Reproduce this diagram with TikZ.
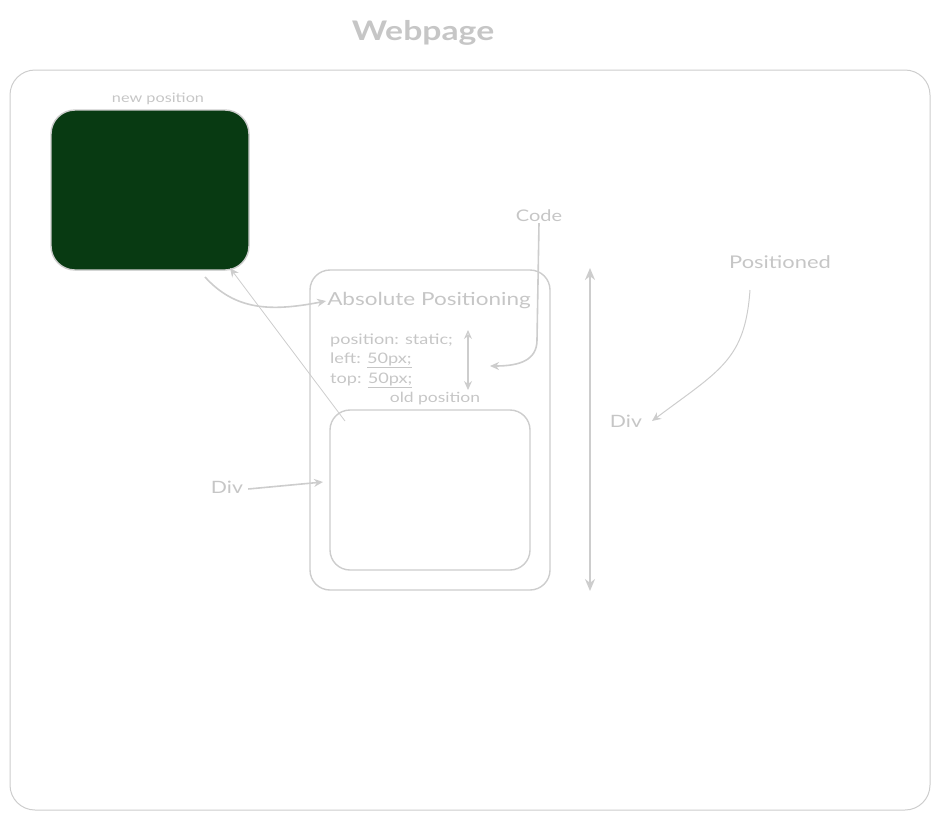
\documentclass[tikz,border=0pt]{standalone}
\usepackage{fontspec}
\setmainfont{Lato}[FakeStretch=1.25]
\usetikzlibrary{positioning,arrows.meta}
\definecolor{sketchgray}{HTML}{CDCDCD}
\definecolor{textgray}{HTML}{C6C6C6}
\definecolor{boxgreen}{HTML}{083A12}
\tikzset{
  frame/.style={draw=sketchgray, line width=1.4pt, rounded corners=22pt},
  label/.style={text=textgray, inner sep=1pt},
  link/.style={draw=sketchgray, line width=1.6pt, -{Stealth[length=9pt,width=8pt]}},
}
\begin{document}
\begin{tikzpicture}[x=1pt, y=-1pt]
\useasboundingbox (0,0) rectangle (940,820);
%page
\node[label, font=\bfseries\fontsize{27}{31}\selectfont] (title) at (423,33) {Webpage};
\draw[frame, line width=1pt, rounded corners=25pt] (10,70) rectangle (930,810);
%boxes
\draw[frame, fill=boxgreen, rounded corners=24pt] (51,110) rectangle (249,270);
\node[label, font=\fontsize{13}{15}\selectfont] (newpos) at (158,99) {new position};
\draw[frame, rounded corners=20pt] (310,270) rectangle (550,590);
\draw[frame, rounded corners=20pt] (330,410) rectangle (530,570);
\coordinate (green bottom) at (205,277);
\coordinate (green corner) at (230,268);
\coordinate (inner corner) at (345,421);
\coordinate (div target) at (323,482);
%texts
\node[label, font=\fontsize{18}{22}\selectfont] (abs) at (429,301) {Absolute Positioning};
\node[label, font=\fontsize{14.5}{17}\selectfont, anchor=west] (l1) at (329,340) {position: static;};
\node[label, font=\fontsize{14.5}{17}\selectfont, anchor=west] (l2) at (329,360) {left: \underline{50px;}};
\node[label, font=\fontsize{14.5}{17}\selectfont, anchor=west] (l3) at (329,380) {top: \underline{50px;}};
\node[label, font=\fontsize{14}{16}\selectfont] (oldpos) at (435,399) {old position};
\node[label, font=\fontsize{16}{19}\selectfont] (code) at (539,216) {Code};
\node[label, font=\fontsize{17.5}{20}\selectfont] (positioned) at (780,262) {Positioned};
\node[label, font=\fontsize{17}{20}\selectfont] (div right) at (626,421) {Div};
\node[label, font=\fontsize{17}{20}\selectfont] (div left) at (227,487) {Div};
\coordinate (code end) at (490,366);
\coordinate (pos start) at (750,290);
\coordinate (pos end) at (652,421);
%arrows
\draw[link] (code.south) -- (537,340) .. controls (537,360) and (520,366) .. (code end);
\draw[link, line width=1pt] (pos start) .. controls (745,360) and (720,370) .. (pos end);
\draw[link] (div left.east) ++(4,2) -- (div target);
\draw[link] (green bottom) .. controls (235,310) and (270,312) .. (abs.west);
\draw[draw=sketchgray, line width=0.8pt, -{Stealth[length=9pt,width=8pt]}] (inner corner) -- (green corner);
\draw[link, line width=1.2pt, {Stealth[length=9pt,width=8pt,open]}-{Stealth[length=9pt,width=8pt]}] (468,330) coordinate (gap top) -- (468,390) coordinate (gap bottom);
\draw[link, line width=2pt, {Stealth[length=12pt,width=10pt,open]}-{Stealth[length=12pt,width=10pt]}] (590,268) coordinate (height top) -- (590,591) coordinate (height bottom);
\end{tikzpicture}
\end{document}
